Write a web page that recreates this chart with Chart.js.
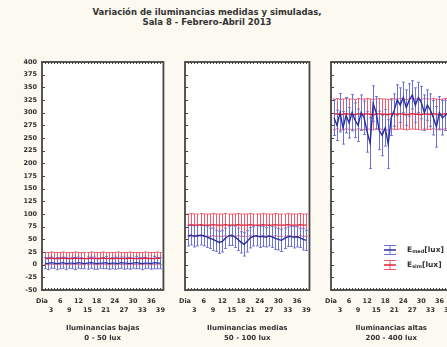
<!DOCTYPE html>
<html><head><meta charset="utf-8">
<script src="https://cdn.jsdelivr.net/npm/chart.js@4.4.1/dist/chart.umd.min.js"></script>
<style>
html,body{margin:0;padding:0;background:#fcf9f1;}
#wrap{position:relative;width:447px;height:347px;overflow:hidden;background:#fcf9f1;}
#title{position:absolute;left:0;top:7px;width:414px;text-align:center;font:bold 8.5px 'DejaVu Sans';color:#333;line-height:10px;}
canvas{position:absolute;top:50px;}
</style></head>
<body><div id="wrap">
<div id="title">Variación de iluminancias medidas y simuladas,<br>Sala 8 - Febrero-Abril 2013</div>
<canvas id="c1" width="172" height="297" style="left:0px"></canvas>
<canvas id="c2" width="146" height="297" style="left:172px"></canvas>
<canvas id="c3" width="142" height="297" style="left:318px"></canvas>
</div>
<script>
// ---------- data ----------
const days = [1,2,3,4,5,6,7,8,9,10,11,12,13,14,15,16,17,18,19,20,21,22,23,24,25,26,27,28,29,30,31,32,33,34,35,36,37,38,39];
const dayTicks = [0,3,6,9,12,15,18,21,24,27,30,33,36,39];
const panelTitles = [["Iluminancias bajas","0 - 50 lux"],["Iluminancias medias","50 - 100 lux"],["Iluminancias altas","200 - 400 lux"]];
const seriesNames = ["med","sim"];

const lowMed    = [3,2,4,3,2,3,4,2,3,3,2,4,3,2,3,4,3,2,3,3,4,2,3,3,2,4,3,3,2,3,4,3,2,3,3,2,4,3,3];
const lowMedErr = [11,12,11,10,12,11,11,12,10,11,12,11,11,10,12,11,12,11,10,11,12,11,11,12,10,11,12,11,11,10,12,11,12,11,10,11,12,11,11];
const lowSim    = [12,12,13,12,12,12,13,12,12,12,13,12,12,12,12,13,12,12,12,13,12,12,12,12,13,12,12,12,13,12,12,12,12,13,12,12,12,13,12];
const lowSimErr = [12,12,12,12,12,12,12,12,12,12,12,12,12,12,12,12,12,12,12,12,12,12,12,12,12,12,12,12,12,12,12,12,12,12,12,12,12,12,12];

const midMed    = [57,58,56,57,58,57,55,52,50,47,44,46,52,57,58,55,50,44,40,46,53,56,57,55,56,54,57,55,52,50,48,52,55,56,54,55,53,50,48];
const midMedErr = [20,19,21,20,19,20,21,20,22,21,22,21,20,19,20,21,22,21,23,21,20,19,20,21,20,19,20,21,22,21,22,20,19,20,21,20,19,21,20];
const midSim    = [78,79,78,78,79,78,78,78,79,78,78,78,79,78,78,78,79,78,78,78,79,78,78,78,79,78,78,78,79,78,78,78,79,78,78,78,79,78,78];
const midSimErr = [22,22,22,22,22,22,22,22,22,22,22,22,22,22,22,22,22,22,22,22,22,22,22,22,22,22,22,22,22,22,22,22,22,22,22,22,22,22,22];

const highMed    = [290,275,300,270,295,280,300,285,275,300,290,262,240,318,300,265,255,270,238,290,305,325,315,330,310,325,335,315,330,320,300,315,305,290,272,300,290,295,300];
const highMedErr = [35,30,38,32,35,30,36,34,32,35,33,40,50,35,32,38,40,36,48,35,32,30,34,30,35,32,28,34,30,32,35,30,32,34,40,32,34,30,32];
const highSim    = [297,298,296,297,298,297,297,296,298,297,297,298,297,296,297,298,297,297,296,298,297,297,298,297,296,297,298,297,297,296,298,297,297,298,297,296,297,298,297];
const highSimErr = [30,30,30,30,30,30,30,30,30,30,30,30,30,30,30,30,30,30,30,30,30,30,30,30,30,30,30,30,30,30,30,30,30,30,30,30,30,30,30];

const FONT = "'DejaVu Sans'";
const TXT = '#333333';
const BLUE_BAR = '#6a70d6', BLUE_LINE = '#2a2f9c';
const RED_BAR = '#ef5a6c', RED_LINE = '#e0243a';

// ---------- plugins ----------
const bgPlugin = {
  id:'bgPlugin',
  beforeDraw(chart){
    const {ctx, chartArea:a} = chart;
    ctx.save(); ctx.fillStyle='#ffffff';
    ctx.fillRect(a.left,a.top,a.right-a.left,a.bottom-a.top);
    ctx.restore();
  }
};
const errorBars = {
  id:'errorBars',
  beforeDatasetsDraw(chart){
    const ctx=chart.ctx, xs=chart.scales.x, ys=chart.scales.y, a=chart.chartArea;
    ctx.save();
    ctx.beginPath(); ctx.rect(a.left,a.top,a.right-a.left,a.bottom-a.top); ctx.clip();
    [...chart.data.datasets].reverse().forEach(ds=>{
      if(!ds.errors) return;
      ctx.strokeStyle=ds.errorColor; ctx.lineWidth=1;
      ds.data.forEach((p,i)=>{
        const x=Math.round(xs.getPixelForValue(p.x))+0.5;
        const y1=ys.getPixelForValue(p.y-ds.errors[i]);
        const y2=ys.getPixelForValue(p.y+ds.errors[i]);
        ctx.beginPath();
        ctx.moveTo(x,y1); ctx.lineTo(x,y2);
        ctx.moveTo(x-1.4,y1); ctx.lineTo(x+1.4,y1);
        ctx.moveTo(x-1.4,y2); ctx.lineTo(x+1.4,y2);
        ctx.stroke();
      });
    });
    ctx.restore();
  }
};
const framePlugin = {
  id:'framePlugin',
  afterDraw(chart){
    const {ctx, chartArea:a} = chart;
    const xs=chart.scales.x, ys=chart.scales.y;
    ctx.save();
    ctx.strokeStyle='#454545'; ctx.lineWidth=1;
    ctx.beginPath();
    ys.ticks.forEach(t=>{
      const y=Math.round(ys.getPixelForValue(t.value))+0.5;
      ctx.moveTo(a.left,y); ctx.lineTo(a.left+3,y);
    });
    days.forEach(d=>{
      const x=Math.round(xs.getPixelForValue(d))+0.5;
      ctx.moveTo(x,a.bottom); ctx.lineTo(x,a.bottom-2);
      ctx.moveTo(x,a.top); ctx.lineTo(x,a.top+2);
    });
    ctx.stroke();
    ctx.lineWidth=1.8;
    ctx.strokeRect(a.left,a.top,a.right-a.left,a.bottom-a.top);
    ctx.restore();
  }
};
const legendPlugin = {
  id:'legendPlugin',
  afterDraw(chart, args, opts){
    if(!opts.show) return;
    const ctx=chart.ctx, a=chart.chartArea;
    const x0=a.left+53, rows=[[BLUE_BAR,BLUE_LINE,seriesNames[0],200],[RED_BAR,RED_LINE,seriesNames[1],215]];
    ctx.save();
    rows.forEach(([bc,lc,sub,y])=>{
      ctx.lineWidth=1;
      ctx.strokeStyle=bc;
      ctx.beginPath();
      ctx.moveTo(x0,y-4.5); ctx.lineTo(x0+12,y-4.5);
      ctx.moveTo(x0,y+4.5); ctx.lineTo(x0+12,y+4.5);
      ctx.moveTo(x0+6,y-4.5); ctx.lineTo(x0+6,y+4.5);
      ctx.stroke();
      ctx.strokeStyle=lc; ctx.lineWidth=1.5;
      ctx.beginPath(); ctx.moveTo(x0,y); ctx.lineTo(x0+12,y); ctx.stroke();
      ctx.fillStyle=TXT; ctx.textBaseline='middle'; ctx.textAlign='left';
      let tx=x0+23;
      ctx.font='bold 7.5px '+FONT; ctx.fillText('E',tx,y); tx+=ctx.measureText('E').width;
      ctx.font='bold 5px '+FONT; ctx.fillText(sub,tx,y+2); tx+=ctx.measureText(sub).width;
      ctx.font='bold 7.5px '+FONT; ctx.fillText('[lux]',tx,y);
    });
    ctx.restore();
  }
};

function makeChart(id, med, medErr, sim, simErr, title, yWidth, padRight, showY, showLegend){
  const toPts = arr => days.map((d,i)=>({x:d,y:arr[i]}));
  return new Chart(document.getElementById(id),{
    type:'line',
    data:{datasets:[
      {label:'E med [lux]',data:toPts(med),errors:medErr,errorColor:BLUE_BAR,borderColor:BLUE_LINE,borderWidth:1.4,pointRadius:0,tension:0},
      {label:'E sim [lux]',data:toPts(sim),errors:simErr,errorColor:RED_BAR,borderColor:RED_LINE,borderWidth:1.4,pointRadius:0,tension:0}
    ]},
    options:{
      responsive:false, animation:false, devicePixelRatio:1,
      layout:{padding:{top:12,right:padRight,left:0,bottom:0}},
      plugins:{legend:{display:false},tooltip:{enabled:false},legendPlugin:{show:showLegend}},
      scales:{
        x:{type:'linear',min:0,max:40,
          afterBuildTicks:s=>{s.ticks=dayTicks.map(v=>({value:v}));},
          afterFit:s=>{s.height=57;},
          grid:{display:false,drawTicks:false},border:{display:false},
          ticks:{autoSkip:false,maxRotation:0,minRotation:0,padding:7,color:TXT,
            font:{family:FONT,size:6.5,weight:'bold',lineHeight:1.4},
            callback:(v,i)=>{const l=v===0?'Dia':String(v); return i%2===0?[l,'']:['',l];}},
          title:{display:true,text:title,color:TXT,padding:{top:0,bottom:3},
            font:{family:FONT,size:7,weight:'bold',lineHeight:1.55}}
        },
        y:{type:'linear',min:-50,max:400,
          afterFit:s=>{s.width=yWidth;},
          grid:{display:false,drawTicks:false},border:{display:false},
          ticks:{stepSize:25,display:showY,padding:5,color:TXT,
            font:{family:FONT,size:6.5,weight:'bold'}}
        }
      }
    },
    plugins:[bgPlugin,errorBars,framePlugin,legendPlugin]
  });
}

makeChart('c1',lowMed,lowMedErr,lowSim,lowSimErr,panelTitles[0],42,4,true,false);
makeChart('c2',midMed,midMedErr,midSim,midSimErr,panelTitles[1],13,5,false,false);
makeChart('c3',highMed,highMedErr,highSim,highSimErr,panelTitles[2],10,4,false,true);
</script>
</body></html>
